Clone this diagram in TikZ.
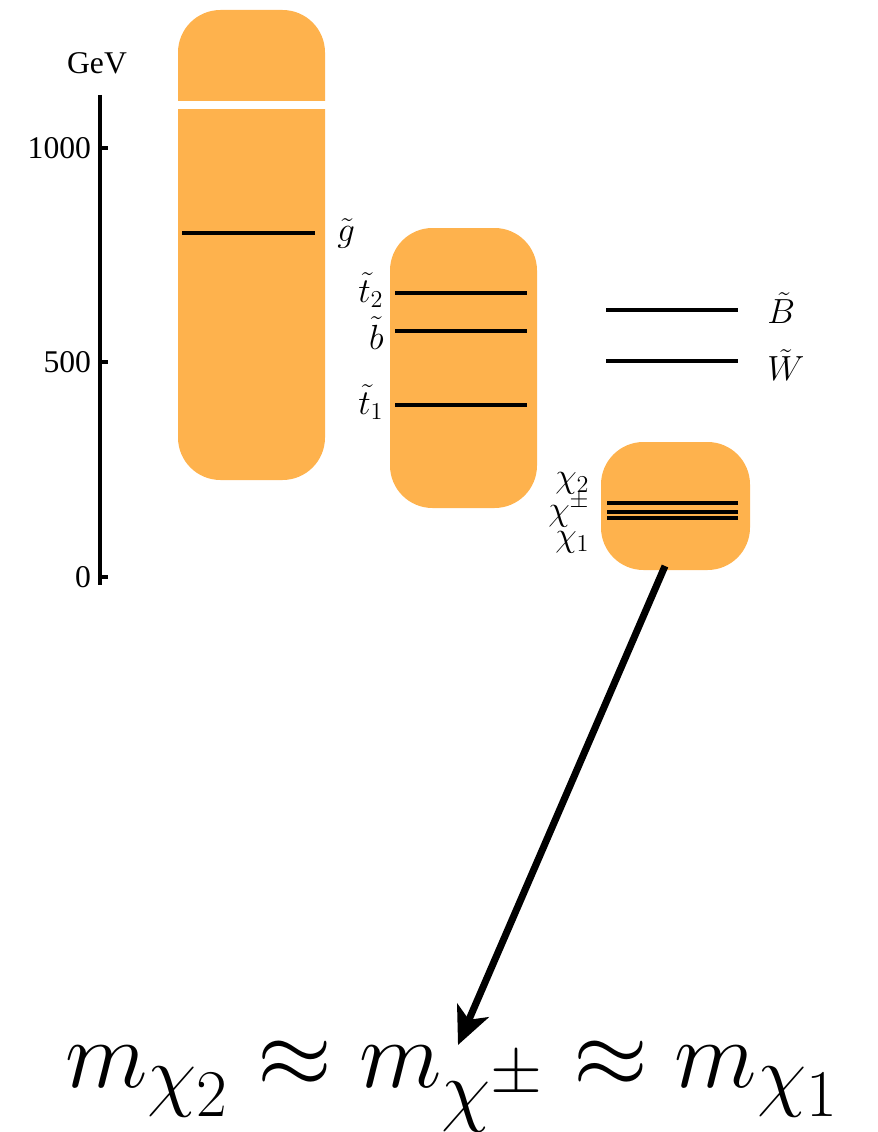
\documentclass[tikz,border=0pt]{standalone}
\usepackage{fontspec}
\newfontfamily\timesfont{Liberation Serif}
\usetikzlibrary{arrows.meta}
\definecolor{boxorange}{RGB}{254,178,77}
\tikzset{
  level/.style={line width=2.8pt},
  band/.style={fill=boxorange,rounded corners=0.85cm},
  lbl/.style={font=\LARGE,scale=1.15,inner sep=1pt}
}
\begin{document}
\begin{tikzpicture}[x=0.02cm,y=-0.02cm]
  \useasboundingbox (0,0) rectangle (878,1132);
  % mass bands
  \fill[band] (178,10) rectangle (325,480);
  \fill[white] (170,101) rectangle (330,109);
  \fill[band] (390,228) rectangle (537,508);
  \fill[band] (601,442) rectangle (750,570);
  % axis
  \coordinate (axtop) at (100,95); \coordinate (axbot) at (100,585);
  \draw[line width=2.3pt] (axtop)--(axbot);
  \foreach \y/\m in {148/1000,362/500,577/0}
    \draw[line width=2.3pt] (100,\y)--(108,\y) node[pos=0,anchor=east,inner sep=4pt,font=\timesfont\fontsize{18}{20}\selectfont]{\m};
  \node[font=\timesfont\fontsize{18}{20}\selectfont] (gev) at (97,63) {GeV};
  % levels
  \foreach \y/\xa/\xb in {233/182/315,293/395/527,331/395/527,405/395/527,310/606/738,361/606/738,503/607/738,512/607/738,518/607/738}
    \draw[level] (\xa,\y)--(\xb,\y);
  \node[lbl,anchor=west] (gluino) at (335,233) {$\tilde g$};
  \node[lbl,anchor=east] (stop2) at (386,290) {$\tilde t_2$};
  \node[lbl,anchor=east] (sbot) at (386,333) {$\tilde b$};
  \node[lbl,anchor=east] (stop1) at (386,402) {$\tilde t_1$};
  \node[lbl,anchor=west] (bino) at (765,308) {$\tilde B$};
  \node[lbl,anchor=west] (wino) at (765,365) {$\tilde W$};
  \node[lbl,anchor=east] (chi2) at (592,483) {$\chi_2$};
  \node[lbl,anchor=east] (chipm) at (592,510) {$\chi^\pm$};
  \node[lbl,anchor=east] (chi1) at (592,542) {$\chi_1$};
  % zoom onto the light states
  \coordinate (chitop) at (665,566);
  \coordinate (arrowtip) at (458,1045);
  \node[anchor=base,inner sep=0pt,font=\Huge,scale=2.2] (mass) at (453,1087)
    {$m_{\chi_2}\approx m_{\chi^\pm}\approx m_{\chi_1}$};
  \draw[line width=4pt,-{Stealth[length=0.75cm,width=0.68cm,inset=0.2cm]}] (chitop)--(arrowtip);
\end{tikzpicture}
\end{document}
